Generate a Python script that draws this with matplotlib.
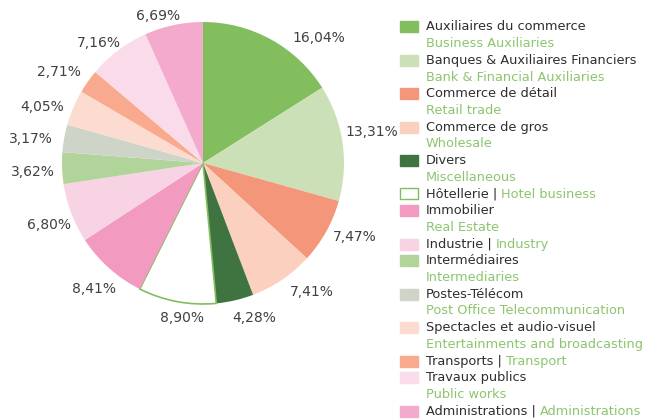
import numpy as np
import matplotlib.pyplot as plt

# -----------------------------------------------------------------
# Data
# -----------------------------------------------------------------
sectors_fr = ['Auxiliaires du commerce', 'Banques & Auxiliaires Financiers',
              'Commerce de détail', 'Commerce de gros', 'Divers', 'Hôtellerie',
              'Immobilier', 'Industrie', 'Intermédiaires', 'Postes-Télécom',
              'Spectacles et audio-visuel', 'Transports', 'Travaux publics',
              'Administrations']
sectors_en = ['Business Auxiliaries', 'Bank & Financial Auxiliaries',
              'Retail trade', 'Wholesale', 'Miscellaneous', 'Hotel business',
              'Real Estate', 'Industry', 'Intermediaries',
              'Post Office Telecommunication', 'Entertainments and broadcasting',
              'Transport', 'Public works', 'Administrations']
# True -> "FR | EN" on one line, False -> EN on a second line
same_line = [False, False, False, False, False, True,
             False, True, False, False, False, True, False, True]
shares = [16.04, 13.31, 7.47, 7.41, 4.28, 8.90, 8.41, 6.80,
          3.62, 3.17, 4.05, 2.71, 7.16, 6.69]

# -----------------------------------------------------------------
# Style
# -----------------------------------------------------------------
colors = ['#82bd5e', '#cce0b8', '#f4967a', '#fbd0bf', '#3f7440', '#ffffff',
          '#f29ac0', '#f8d3e3', '#b1d49a', '#cfd4c8', '#fcdcd0', '#f8a98e',
          '#fadbe9', '#f4aacd']
green_txt = '#8cc56e'
dark_txt = '#2e2e2e'
label_txt = '#404040'
# small angular nudges (deg) and radial distances (x radius) for the % labels
label_shift = [-14, 2, 3, 6, 5, 3, 1, 1, 1, 2, 4, 3, 4, 5]
label_dist = [1.21, 1.22, 1.20, 1.20, 1.16, 1.11, 1.18, 1.18,
              1.21, 1.23, 1.21, 1.21, 1.13, 1.09]

W, H = 646, 419
fig = plt.figure(figsize=(W / 100, H / 100), dpi=100)
ax = fig.add_axes([0, 0, 1, 1])

cx, cy, R = 203, H - 163, 141
wedges, _ = ax.pie(shares, colors=colors, startangle=90, counterclock=False,
                   center=(cx, cy), radius=R, frame=True,
                   wedgeprops=dict(linewidth=0))
# Hôtellerie: white slice with green outline
wedges[5].set_edgecolor('#82bd5e')
wedges[5].set_linewidth(1.2)
ax.set_xlim(0, W)
ax.set_ylim(0, H)
ax.set_aspect('equal')
ax.axis('off')

for w, v, sh, d in zip(wedges, shares, label_shift, label_dist):
    ang = np.deg2rad((w.theta1 + w.theta2) / 2 + sh)
    ax.text(cx + d * R * np.cos(ang), cy + d * R * np.sin(ang),
            f'{v:.2f}%'.replace('.', ','), ha='center', va='center',
            fontsize=10, color=label_txt, family='DejaVu Sans')

# -----------------------------------------------------------------
# Custom two-colour legend
# -----------------------------------------------------------------
leg_font = 'DejaVu Sans'
fs = 9.3
x_patch, x_txt = 400, 426
y0, dy = H - 27, 16.7
line = 0
for i, (fr, en) in enumerate(zip(sectors_fr, sectors_en)):
    y = y0 - line * dy
    ec = '#82bd5e' if colors[i] == '#ffffff' else colors[i]
    ax.add_patch(plt.Rectangle((x_patch, y - 5.5), 18, 11, facecolor=colors[i],
                               edgecolor=ec, linewidth=1.0))
    t = ax.text(x_txt, y, fr + (' | ' if same_line[i] else ''), ha='left',
                va='center', fontsize=fs, color=dark_txt, family=leg_font)
    if same_line[i]:
        ax.annotate(en, xycoords=t, xy=(1, 0), va='bottom', ha='left',
                    fontsize=fs, color=green_txt, family=leg_font)
        line += 1
    else:
        ax.text(x_txt, y - dy, en, ha='left', va='center', fontsize=fs,
                color=green_txt, family=leg_font)
        line += 2

fig.savefig('out.png', dpi=100)
